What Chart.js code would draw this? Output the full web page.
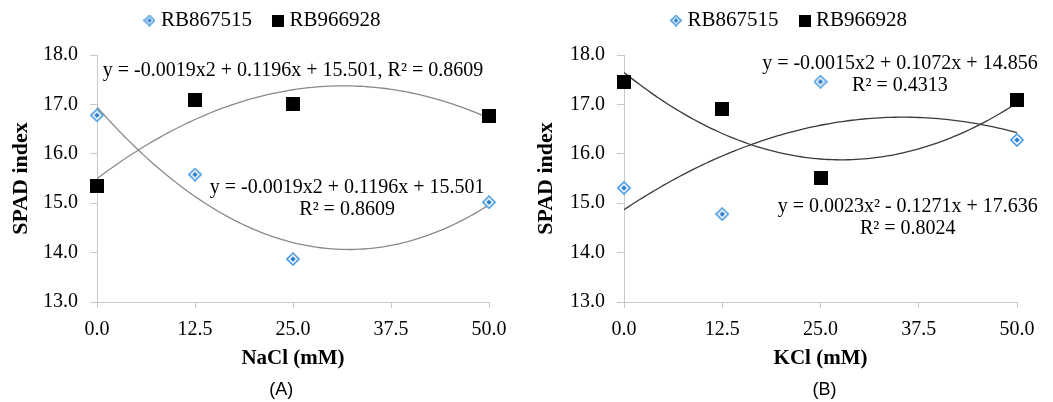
<!DOCTYPE html>
<html lang="en">
<head>
    <meta charset="UTF-8">
    <title>SPAD index - NaCl and KCl</title>
    <script src="https://cdn.jsdelivr.net/npm/chart.js"></script>
    <style>
        body {
            margin: 0;
            background: #ffffff;
        }
        .panel {
            position: absolute;
            top: 0;
            height: 402px;
        }
        #panelA { left: 0; width: 525px; }
        #panelB { left: 525px; width: 528px; }
    </style>
</head>
<body>
    <div class="panel" id="panelA"><canvas id="chartA" width="525" height="402"></canvas></div>
    <div class="panel" id="panelB"><canvas id="chartB" width="528" height="402"></canvas></div>

    <script>
        // concentrations (mM)
        const doses = [0, 12.5, 25, 50];
        const xTicks = [0, 12.5, 25, 37.5, 50];
        const yTicks = [13, 14, 15, 16, 17, 18];
        const seriesNames = ['RB867515', 'RB966928'];

        // SPAD index
        const naclRB867515 = [16.78, 15.58, 13.87, 15.02];
        const naclRB966928 = [15.35, 17.09, 17.00, 16.77];
        const kclRB867515 = [15.31, 14.78, 17.46, 16.28];
        const kclRB966928 = [17.46, 16.91, 15.52, 17.09];

        const serif = "'Liberation Serif', 'Times New Roman', serif";

        // marker images
        function diamondImg(s) {
            const c = document.createElement('canvas');
            c.width = s; c.height = s;
            const g = c.getContext('2d');
            const h = s / 2;
            g.beginPath();
            g.moveTo(h, 1); g.lineTo(s - 1, h); g.lineTo(h, s - 1); g.lineTo(1, h);
            g.closePath();
            g.fillStyle = '#ffffff';
            g.fill();
            g.strokeStyle = '#4a9be0';
            g.lineWidth = 1.6;
            g.stroke();
            const r = s * 0.2;
            g.beginPath();
            g.moveTo(h, h - r); g.lineTo(h + r, h); g.lineTo(h, h + r); g.lineTo(h - r, h);
            g.closePath();
            g.fillStyle = '#2f7fcf';
            g.fill();
            return c;
        }
        function squareImg(s) {
            const c = document.createElement('canvas');
            c.width = s; c.height = s;
            const g = c.getContext('2d');
            g.fillStyle = '#000000';
            g.fillRect(0, 0, s, s);
            return c;
        }
        const markers = [diamondImg(14), squareImg(14)];
        const legendMarkers = [diamondImg(12), squareImg(12)];

        // least squares quadratic fit (Excel polynomial trendline)
        function quadFit(xs, ys) {
            let s = [0, 0, 0, 0, 0], t = [0, 0, 0];
            xs.forEach((x, i) => {
                for (let k = 0; k < 5; k++) s[k] += Math.pow(x, k);
                for (let k = 0; k < 3; k++) t[k] += Math.pow(x, k) * ys[i];
            });
            const m = [[s[0], s[1], s[2], t[0]], [s[1], s[2], s[3], t[1]], [s[2], s[3], s[4], t[2]]];
            for (let i = 0; i < 3; i++) {
                for (let j = i + 1; j < 3; j++) {
                    const f = m[j][i] / m[i][i];
                    for (let k = i; k < 4; k++) m[j][k] -= f * m[i][k];
                }
            }
            const c = [0, 0, 0];
            for (let i = 2; i >= 0; i--) {
                let v = m[i][3];
                for (let k = i + 1; k < 3; k++) v -= m[i][k] * c[k];
                c[i] = v / m[i][i];
            }
            return c;
        }
        function trendPoints(xs, ys) {
            const c = quadFit(xs, ys);
            const pts = [];
            for (let x = xs[0]; x <= xs[xs.length - 1] + 1e-9; x += 0.5) {
                pts.push({x: x, y: c[0] + c[1] * x + c[2] * x * x});
            }
            return pts;
        }

        // text annotations, placed in data units
        const notesA = [
            {x: 25, y: 17.68, lines: ['y = -0.0019x2 + 0.1196x + 15.501, R² = 0.8609']},
            {x: 31.9, y: 15.31, lines: ['y = -0.0019x2 + 0.1196x + 15.501', 'R² = 0.8609']}
        ];
        const notesB = [
            {x: 35.1, y: 17.82, lines: ['y = -0.0015x2 + 0.1072x + 14.856', 'R² = 0.4313']},
            {x: 36.1, y: 14.92, lines: ['y = 0.0023x² - 0.1271x + 17.636', 'R² = 0.8024']}
        ];

        const notesPlugin = {
            id: 'notes',
            afterDatasetsDraw(chart, args, opts) {
                const ctx = chart.ctx;
                const xs = chart.scales.x, ys = chart.scales.y;
                ctx.save();
                ctx.fillStyle = '#000000';
                ctx.font = '20px ' + serif;
                ctx.textAlign = 'center';
                ctx.textBaseline = 'middle';
                opts.notes.forEach(n => {
                    const px = xs.getPixelForValue(n.x);
                    const py = ys.getPixelForValue(n.y);
                    n.lines.forEach((line, i) => ctx.fillText(line, px, py + i * 22));
                });
                ctx.font = "18px 'Liberation Sans', Arial, sans-serif";
                ctx.fillText(opts.panel, xs.getPixelForValue(opts.panelX), chart.height - 12);
                ctx.restore();
            }
        };

        // extra room under the legend, and nudge it to the right
        const legendGap = {
            id: 'legendGap',
            beforeInit(chart) {
                const legend = chart.legend;
                const fit = legend.fit;
                legend.fit = function () {
                    fit.bind(legend)();
                    this.height += 14;
                };
                const draw = legend.draw;
                legend.draw = function () {
                    chart.ctx.save();
                    chart.ctx.translate(20, 0);
                    draw.bind(legend)();
                    chart.ctx.restore();
                };
            }
        };

        function makeChart(id, saltLabel, ySeries, notes, panel, panelX, yWidth) {
            const datasets = [];
            ySeries.forEach((ys, i) => {
                datasets.push({
                    label: seriesNames[i],
                    data: doses.map((x, k) => ({x: x, y: ys[k]})),
                    pointStyle: markers[i],
                    pointRadius: 7,
                    clip: false,
                    order: 0
                });
            });
            ySeries.forEach((ys, i) => {
                datasets.push({
                    label: 'trend ' + seriesNames[i],
                    data: trendPoints(doses, ys),
                    showLine: true,
                    pointRadius: 0,
                    borderColor: id === 'chartA' ? '#8a8a8a' : '#3a3a3a',
                    borderWidth: 1.3,
                    tension: 0,
                    order: 1
                });
            });

            return new Chart(document.getElementById(id), {
                type: 'scatter',
                data: {datasets: datasets},
                plugins: [legendGap, notesPlugin],
                options: {
                    responsive: false,
                    animation: false,
                    layout: {padding: {top: -15, right: 36, bottom: 0, left: 0}},
                    plugins: {
                        legend: {
                            position: 'top',
                            labels: {
                                usePointStyle: true,
                                pointStyleWidth: 2,
                                padding: 25,
                                color: '#000000',
                                font: {family: serif, size: 21},
                                filter: item => item.datasetIndex < 2,
                                generateLabels: chart => {
                                    const items = Chart.defaults.plugins.legend.labels.generateLabels(chart);
                                    items.forEach(it => {
                                        if (it.datasetIndex < 2) it.pointStyle = legendMarkers[it.datasetIndex];
                                    });
                                    return items;
                                }
                            }
                        },
                        tooltip: {enabled: false},
                        notes: {notes: notes, panel: panel, panelX: panelX}
                    },
                    scales: {
                        x: {
                            type: 'linear',
                            min: 0,
                            max: 50,
                            afterBuildTicks: axis => { axis.ticks = xTicks.map(v => ({value: v})); },
                            afterFit: axis => { axis.height = 100; },
                            border: {color: '#c8c8c8', width: 1},
                            grid: {drawOnChartArea: false, drawTicks: true, tickLength: 6, color: '#c8c8c8'},
                            ticks: {
                                color: '#000000',
                                padding: 10,
                                maxRotation: 0,
                                font: {family: serif, size: 20},
                                callback: v => v.toFixed(1)
                            },
                            title: {
                                display: true,
                                text: saltLabel,
                                color: '#000000',
                                font: {family: serif, size: 21, weight: 'bold'},
                                padding: {top: 0, bottom: 31}
                            }
                        },
                        y: {
                            min: 13,
                            max: 18,
                            afterBuildTicks: axis => { axis.ticks = yTicks.map(v => ({value: v})); },
                            afterFit: axis => { axis.width = yWidth; },
                            border: {color: '#c8c8c8', width: 1},
                            grid: {drawOnChartArea: false, drawTicks: true, tickLength: 7, color: '#c8c8c8'},
                            ticks: {
                                color: '#000000',
                                padding: 12,
                                font: {family: serif, size: 20},
                                callback: v => v.toFixed(1)
                            },
                            title: {
                                display: true,
                                text: 'SPAD index',
                                color: '#000000',
                                font: {family: serif, size: 22, weight: 'bold'},
                                padding: {top: 8, bottom: 0}
                            }
                        }
                    }
                }
            });
        }

        makeChart('chartA', 'NaCl (mM)', [naclRB867515, naclRB966928], notesA, '(A)', 23.5, 97);
        makeChart('chartB', 'KCl (mM)', [kclRB867515, kclRB966928], notesB, '(B)', 25.5, 99);
    </script>
</body>
</html>
